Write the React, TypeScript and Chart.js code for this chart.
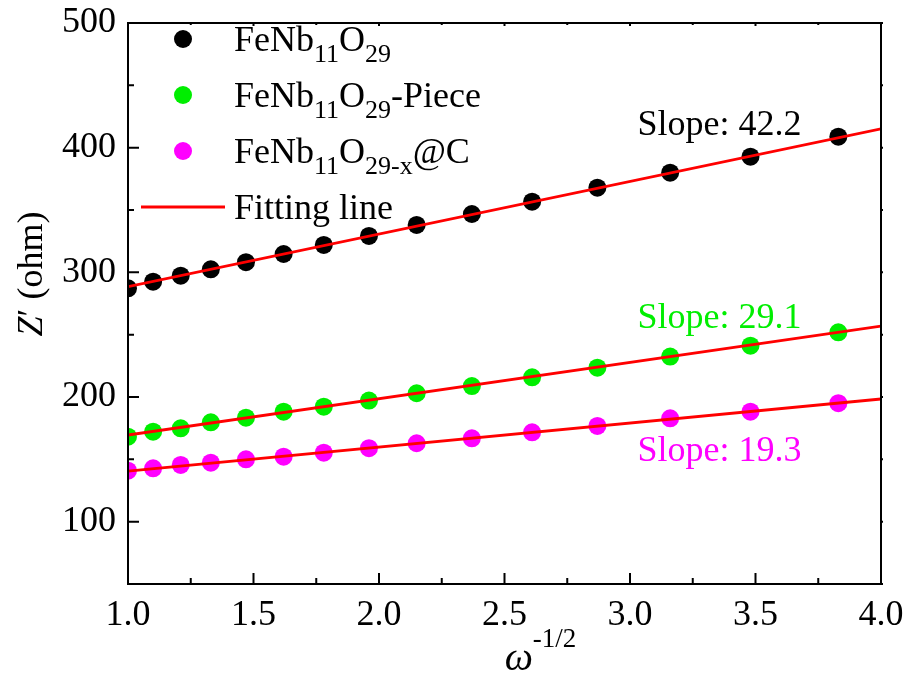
import { useEffect, useRef } from "react";
import { Chart, registerables } from "chart.js";

Chart.register(...registerables);

// ω^-1/2 sampling points
const xValues = [1.0, 1.1, 1.21, 1.33, 1.47, 1.62, 1.78, 1.96, 2.15, 2.37, 2.61, 2.87, 3.16, 3.48, 3.83];
// Z' (ohm) for each sample
const pristine = [287.2, 292.5, 297.3, 302.4, 308.1, 314.7, 322.0, 329.2, 338.0, 346.8, 356.7, 367.9, 379.9, 392.8, 408.8];
const piece = [168.2, 172.2, 174.9, 179.7, 183.4, 188.2, 192.2, 197.1, 203.0, 208.8, 215.8, 223.5, 232.4, 241.2, 251.9];
const carbon = [140.9, 142.8, 145.5, 147.3, 150.0, 152.1, 155.3, 158.9, 162.9, 166.9, 171.7, 176.8, 182.9, 188.2, 195.0];

// linear fits: Z' = intercept + slope * ω^-1/2
const fitSlopes = [42.2, 29.1, 19.3];
const fitIntercepts = [246.3, 140.4, 121.2];
const fitRange = [1.0, 4.0];

const xTicks = [1.0, 1.5, 2.0, 2.5, 3.0, 3.5, 4.0];
const xMinorTicks = [1.25, 1.75, 2.25, 2.75, 3.25, 3.75];
const yTicks = [100, 200, 300, 400, 500];
const yMinorTicks = [50, 150, 250, 350, 450];

const seriesColors = ["#000000", "#00ee00", "#ff00ff"];
const fitColor = "#ff0000";

const SERIF = "'Liberation Serif', 'Times New Roman', serif";

type Run = { text: string; size: number; italic?: boolean; shift?: number };

// draws a sequence of text runs on one baseline, returns total width
function drawRuns(ctx: CanvasRenderingContext2D, runs: Run[], x: number, y: number, color: string, measureOnly = false) {
  let cx = x;
  for (const r of runs) {
    ctx.font = `${r.italic ? "italic " : ""}${r.size}px ${SERIF}`;
    if (!measureOnly) {
      ctx.fillStyle = color;
      ctx.textAlign = "left";
      ctx.textBaseline = "alphabetic";
      ctx.fillText(r.text, cx, y + (r.shift || 0));
    }
    cx += ctx.measureText(r.text).width;
  }
  return cx - x;
}

const SUB = 26;
const legendItems: { runs: Run[]; kind: "point" | "line"; color: string }[] = [
  {
    kind: "point",
    color: seriesColors[0],
    runs: [
      { text: "FeNb", size: 36 },
      { text: "11", size: SUB, shift: 11 },
      { text: "O", size: 36 },
      { text: "29", size: SUB, shift: 11 },
    ],
  },
  {
    kind: "point",
    color: seriesColors[1],
    runs: [
      { text: "FeNb", size: 36 },
      { text: "11", size: SUB, shift: 11 },
      { text: "O", size: 36 },
      { text: "29", size: SUB, shift: 11 },
      { text: "-Piece", size: 36 },
    ],
  },
  {
    kind: "point",
    color: seriesColors[2],
    runs: [
      { text: "FeNb", size: 36 },
      { text: "11", size: SUB, shift: 11 },
      { text: "O", size: 36 },
      { text: "29-x", size: SUB, shift: 11 },
      { text: "@C", size: 36 },
    ],
  },
  { kind: "line", color: fitColor, runs: [{ text: "Fitting line", size: 36 }] },
];

const slopeLabels = [
  { text: "Slope: 42.2", x: 3.03, y: 410.2, color: seriesColors[0] },
  { text: "Slope: 29.1", x: 3.03, y: 255.6, color: seriesColors[1] },
  { text: "Slope: 19.3", x: 3.03, y: 148.7, color: seriesColors[2] },
];

const decorations = {
  id: "decorations",
  afterDatasetsDraw(chart: any) {
    const ctx: CanvasRenderingContext2D = chart.ctx;
    const xs = chart.scales.x;
    const ys = chart.scales.y;
    const { left, right, top, bottom } = chart.chartArea;
    ctx.save();

    // frame
    ctx.strokeStyle = "#000";
    ctx.lineWidth = 2;
    ctx.strokeRect(left, top, right - left, bottom - top);

    // inward ticks
    ctx.lineWidth = 2;
    ctx.beginPath();
    for (const v of xTicks) {
      const p = xs.getPixelForValue(v);
      ctx.moveTo(p, bottom);
      ctx.lineTo(p, bottom - 11);
      ctx.moveTo(p, top);
      ctx.lineTo(p, top + 3);
    }
    for (const v of xMinorTicks) {
      const p = xs.getPixelForValue(v);
      ctx.moveTo(p, bottom);
      ctx.lineTo(p, bottom - 6);
      ctx.moveTo(p, top);
      ctx.lineTo(p, top + 2);
    }
    for (const v of yTicks) {
      const p = ys.getPixelForValue(v);
      ctx.moveTo(left, p);
      ctx.lineTo(left + 11, p);
      ctx.moveTo(right, p);
      ctx.lineTo(right + 2, p);
    }
    for (const v of yMinorTicks) {
      const p = ys.getPixelForValue(v);
      ctx.moveTo(left, p);
      ctx.lineTo(left + 6, p);
      ctx.moveTo(right, p);
      ctx.lineTo(right + 2, p);
    }
    ctx.stroke();

    // slope annotations
    for (const s of slopeLabels) {
      drawRuns(ctx, [{ text: s.text, size: 36 }], xs.getPixelForValue(s.x), ys.getPixelForValue(s.y), s.color);
    }

    // legend
    const legX = left + 55;
    const legTop = top + 16;
    const rowH = 56;
    legendItems.forEach((item, i) => {
      const cy = legTop + i * rowH;
      if (item.kind === "point") {
        ctx.fillStyle = item.color;
        ctx.beginPath();
        ctx.arc(legX, cy, 9, 0, Math.PI * 2);
        ctx.fill();
      } else {
        ctx.strokeStyle = item.color;
        ctx.lineWidth = 3;
        ctx.beginPath();
        ctx.moveTo(legX - 42, cy);
        ctx.lineTo(legX + 42, cy);
        ctx.stroke();
      }
      drawRuns(ctx, item.runs, legX + 51, cy + 12, "#000");
    });

    // y title: Z′ (ohm), rotated
    const yRuns: Run[] = [
      { text: "Z", size: 36, italic: true },
      { text: "\u2032 (ohm)", size: 36 },
    ];
    const yw = drawRuns(ctx, yRuns, 0, 0, "#000", true);
    ctx.save();
    ctx.translate(42, 274);
    ctx.rotate(-Math.PI / 2);
    drawRuns(ctx, yRuns, -yw / 2, 0, "#000");
    ctx.restore();

    // x title: ω^-1/2
    const xRuns: Run[] = [
      { text: "\u03c9", size: 40, italic: true },
      { text: "-1/2", size: 27, shift: -23 },
    ];
    const xw = drawRuns(ctx, xRuns, 0, 0, "#000", true);
    drawRuns(ctx, xRuns, (left + right) / 2 - xw / 2 + 36, bottom + 86, "#000");

    ctx.restore();
  },
};

export default function App() {
  const canvasRef = useRef<HTMLCanvasElement | null>(null);

  useEffect(() => {
    const canvas = canvasRef.current;
    if (!canvas) return;

    const pointSets = [pristine, piece, carbon].map((ys, i) => ({
      type: "scatter" as const,
      label: ["FeNb11O29", "FeNb11O29-Piece", "FeNb11O29-x@C"][i],
      data: xValues.map((x, k) => ({ x, y: ys[k] })),
      backgroundColor: seriesColors[i],
      borderColor: seriesColors[i],
      borderWidth: 0,
      pointRadius: 9,
      showLine: false,
      order: 2,
    }));

    const fitSets = fitSlopes.map((m, i) => ({
      type: "line" as const,
      label: "Fitting line",
      data: fitRange.map((x) => ({ x, y: fitIntercepts[i] + m * x })),
      borderColor: fitColor,
      borderWidth: 2.8,
      pointRadius: 0,
      fill: false,
      tension: 0,
      order: 1,
    }));

    const chart = new Chart(canvas, {
      type: "scatter",
      data: { datasets: [...pointSets, ...fitSets] as any },
      options: {
        responsive: false,
        animation: false,
        layout: { padding: { top: 23, right: 27, left: 0, bottom: 0 } },
        plugins: { legend: { display: false }, tooltip: { enabled: false } },
        scales: {
          x: {
            type: "linear",
            min: 1.0,
            max: 4.0,
            grid: { display: false, drawTicks: false },
            border: { display: false },
            afterBuildTicks: (s: any) => {
              s.ticks = xTicks.map((value) => ({ value }));
            },
            afterFit: (s: any) => {
              s.height = 94;
              s.paddingLeft = 0;
              s.paddingRight = 0;
            },
            ticks: {
              color: "#000",
              padding: 10,
              maxRotation: 0,
              autoSkip: false,
              font: { family: SERIF, size: 36 },
              callback: (v: any) => Number(v).toFixed(1),
            },
          },
          y: {
            type: "linear",
            min: 50,
            max: 500,
            grid: { display: false, drawTicks: false },
            border: { display: false },
            afterBuildTicks: (s: any) => {
              s.ticks = yTicks.map((value) => ({ value }));
            },
            afterFit: (s: any) => {
              s.width = 128;
              s.paddingTop = 0;
              s.paddingBottom = 0;
            },
            ticks: {
              color: "#000",
              padding: 12,
              autoSkip: false,
              font: { family: SERIF, size: 36 },
              callback: (v: any) => String(v),
            },
          },
        },
      },
      plugins: [decorations],
    });

    return () => chart.destroy();
  }, []);

  return (
    <div style={{ position: "fixed", left: 0, top: 0, width: 908, height: 678, background: "#fff" }}>
      <canvas ref={canvasRef} width={908} height={678} style={{ display: "block" }} />
    </div>
  );
}
